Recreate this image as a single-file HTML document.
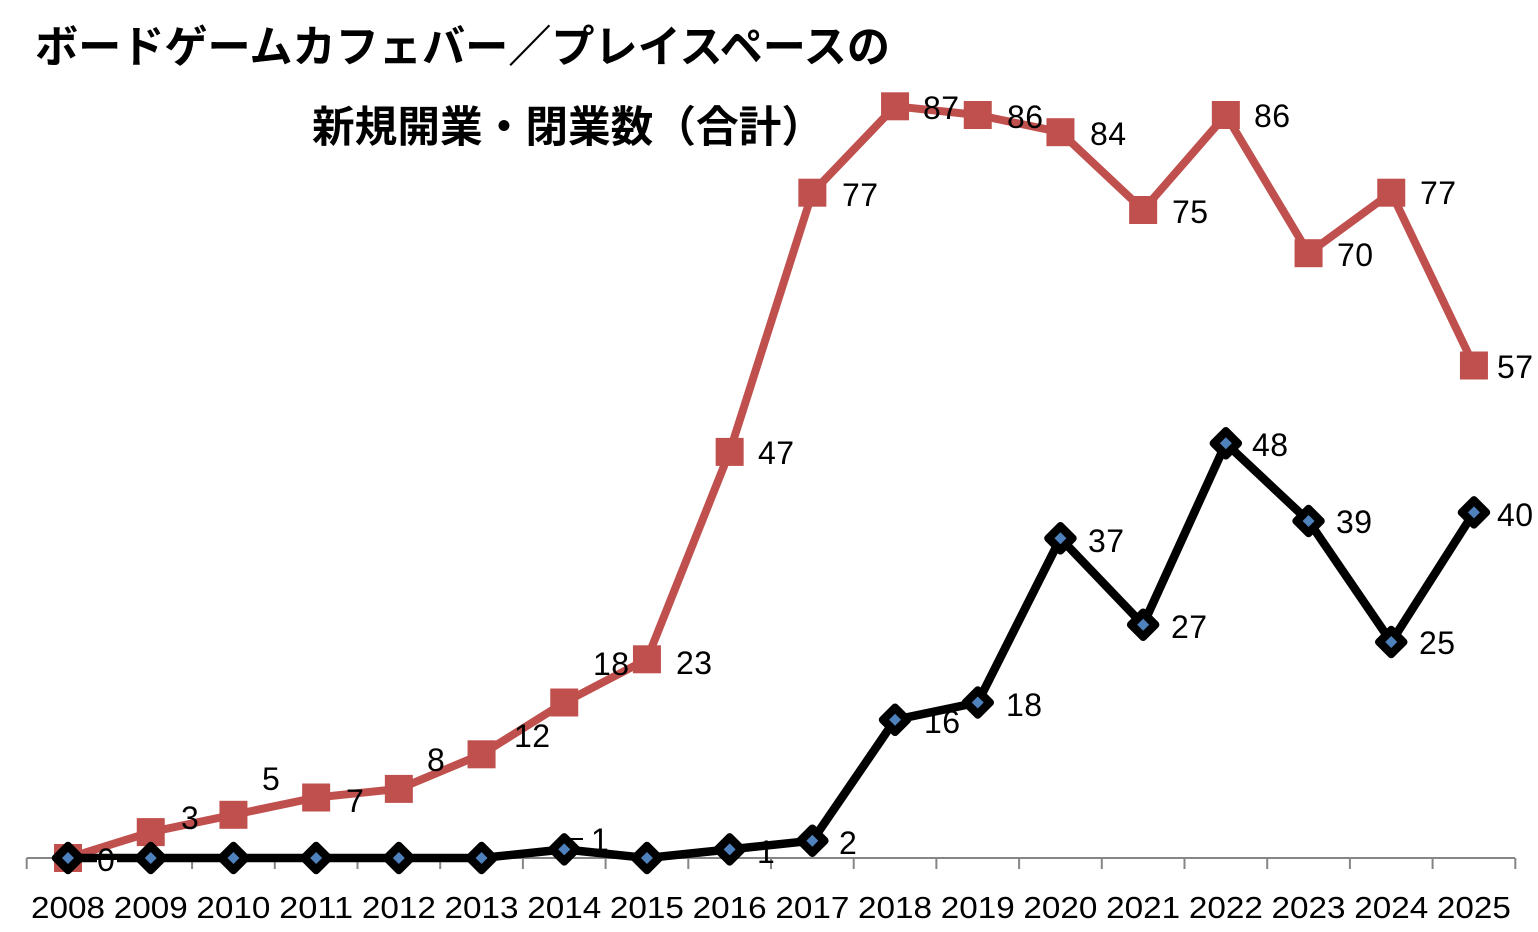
<!DOCTYPE html>
<html><head><meta charset="utf-8"><style>
html,body{margin:0;padding:0;background:#fff;}
svg{display:block;}
</style></head><body>
<svg width="1538" height="932" viewBox="0 0 1538 932" xmlns="http://www.w3.org/2000/svg">
<defs>
<rect id="sq" x="-14" y="-14" width="28" height="28" fill="#C0504D"/>
<g id="dm">
<polygon points="0,-12.5 12.5,0 0,12.5 -12.5,0" fill="#000" stroke="#000" stroke-width="7.5" stroke-linejoin="round"/>
<polygon points="0,-6 6,0 0,6 -6,0" fill="#4F81BD"/>
</g>
</defs>
<rect width="1538" height="932" fill="#fff"/>

<!-- title -->
<text x="35" y="62" font-family="Liberation Sans, Noto Sans CJK JP, sans-serif" font-weight="700" font-size="44" textLength="855" lengthAdjust="spacingAndGlyphs" fill="#000">ボードゲームカフェバー／プレイスペースの</text>
<text x="312" y="142" font-family="Liberation Sans, Noto Sans CJK JP, sans-serif" font-weight="700" font-size="43" textLength="512" lengthAdjust="spacingAndGlyphs" fill="#000">新規開業・閉業数（合計）</text>

<!-- axis -->
<g stroke="#868686" stroke-width="2">
<line x1="26.7" y1="858" x2="1515" y2="858"/>
<line x1="26.7" y1="858" x2="26.7" y2="869"/>
<line x1="109.4" y1="858" x2="109.4" y2="869"/>
<line x1="192.1" y1="858" x2="192.1" y2="869"/>
<line x1="274.8" y1="858" x2="274.8" y2="869"/>
<line x1="357.5" y1="858" x2="357.5" y2="869"/>
<line x1="440.2" y1="858" x2="440.2" y2="869"/>
<line x1="522.9" y1="858" x2="522.9" y2="869"/>
<line x1="605.6" y1="858" x2="605.6" y2="869"/>
<line x1="688.3" y1="858" x2="688.3" y2="869"/>
<line x1="771.0" y1="858" x2="771.0" y2="869"/>
<line x1="853.7" y1="858" x2="853.7" y2="869"/>
<line x1="936.4" y1="858" x2="936.4" y2="869"/>
<line x1="1019.1" y1="858" x2="1019.1" y2="869"/>
<line x1="1101.8" y1="858" x2="1101.8" y2="869"/>
<line x1="1184.5" y1="858" x2="1184.5" y2="869"/>
<line x1="1267.2" y1="858" x2="1267.2" y2="869"/>
<line x1="1349.9" y1="858" x2="1349.9" y2="869"/>
<line x1="1432.6" y1="858" x2="1432.6" y2="869"/>
<line x1="1515.3" y1="858" x2="1515.3" y2="869"/>
</g>

<!-- year labels -->
<g font-family="Liberation Sans, sans-serif" font-size="31" fill="#000" text-anchor="middle">
<text x="68" y="918" textLength="74" lengthAdjust="spacingAndGlyphs">2008</text>
<text x="150.75" y="918" textLength="74" lengthAdjust="spacingAndGlyphs">2009</text>
<text x="233.45" y="918" textLength="74" lengthAdjust="spacingAndGlyphs">2010</text>
<text x="316.15" y="918" textLength="74" lengthAdjust="spacingAndGlyphs">2011</text>
<text x="398.85" y="918" textLength="74" lengthAdjust="spacingAndGlyphs">2012</text>
<text x="481.55" y="918" textLength="74" lengthAdjust="spacingAndGlyphs">2013</text>
<text x="564.25" y="918" textLength="74" lengthAdjust="spacingAndGlyphs">2014</text>
<text x="646.95" y="918" textLength="74" lengthAdjust="spacingAndGlyphs">2015</text>
<text x="729.65" y="918" textLength="74" lengthAdjust="spacingAndGlyphs">2016</text>
<text x="812.35" y="918" textLength="74" lengthAdjust="spacingAndGlyphs">2017</text>
<text x="895.05" y="918" textLength="74" lengthAdjust="spacingAndGlyphs">2018</text>
<text x="977.75" y="918" textLength="74" lengthAdjust="spacingAndGlyphs">2019</text>
<text x="1060.45" y="918" textLength="74" lengthAdjust="spacingAndGlyphs">2020</text>
<text x="1143.15" y="918" textLength="74" lengthAdjust="spacingAndGlyphs">2021</text>
<text x="1225.85" y="918" textLength="74" lengthAdjust="spacingAndGlyphs">2022</text>
<text x="1308.55" y="918" textLength="74" lengthAdjust="spacingAndGlyphs">2023</text>
<text x="1391.25" y="918" textLength="74" lengthAdjust="spacingAndGlyphs">2024</text>
<text x="1473.95" y="918" textLength="74" lengthAdjust="spacingAndGlyphs">2025</text>
</g>

<!-- red series -->
<polyline fill="none" stroke="#C0504D" stroke-width="8" stroke-linejoin="round" stroke-linecap="round"
points="68,858 150.75,832.1 233.45,814.8 316.15,797.5 398.85,788.9 481.55,754.3 564.25,702.5 646.95,659.3 729.65,451.9 812.35,192.7 895.05,106.3 977.75,115 1060.45,132.2 1143.15,210 1225.85,115 1308.55,253.2 1391.25,192.7 1473.95,365.5"/>
<use href="#sq" x="68" y="858"/>
<use href="#sq" x="150.75" y="832.1"/>
<use href="#sq" x="233.45" y="814.8"/>
<use href="#sq" x="316.15" y="797.5"/>
<use href="#sq" x="398.85" y="788.9"/>
<use href="#sq" x="481.55" y="754.3"/>
<use href="#sq" x="564.25" y="702.5"/>
<use href="#sq" x="646.95" y="659.3"/>
<use href="#sq" x="729.65" y="451.9"/>
<use href="#sq" x="812.35" y="192.7"/>
<use href="#sq" x="895.05" y="106.3"/>
<use href="#sq" x="977.75" y="115"/>
<use href="#sq" x="1060.45" y="132.2"/>
<use href="#sq" x="1143.15" y="210"/>
<use href="#sq" x="1225.85" y="115"/>
<use href="#sq" x="1308.55" y="253.2"/>
<use href="#sq" x="1391.25" y="192.7"/>
<use href="#sq" x="1473.95" y="365.5"/>

<!-- black series -->
<polyline fill="none" stroke="#000" stroke-width="8.5" stroke-linejoin="round" stroke-linecap="round"
points="68,858 150.75,858 233.45,858 316.15,858 398.85,858 481.55,858 564.25,849.4 646.95,858 729.65,849.4 812.35,840.7 895.05,719.8 977.75,702.5 1060.45,538.3 1143.15,624.7 1225.85,443.3 1308.55,521 1391.25,642 1473.95,512.4"/>
<use href="#dm" x="68" y="858"/>
<use href="#dm" x="150.75" y="858"/>
<use href="#dm" x="233.45" y="858"/>
<use href="#dm" x="316.15" y="858"/>
<use href="#dm" x="398.85" y="858"/>
<use href="#dm" x="481.55" y="858"/>
<use href="#dm" x="564.25" y="849.4"/>
<use href="#dm" x="646.95" y="858"/>
<use href="#dm" x="729.65" y="849.4"/>
<use href="#dm" x="812.35" y="840.7"/>
<use href="#dm" x="895.05" y="719.8"/>
<use href="#dm" x="977.75" y="702.5"/>
<use href="#dm" x="1060.45" y="538.3"/>
<use href="#dm" x="1143.15" y="624.7"/>
<use href="#dm" x="1225.85" y="443.3"/>
<use href="#dm" x="1308.55" y="521"/>
<use href="#dm" x="1391.25" y="642"/>
<use href="#dm" x="1473.95" y="512.4"/>

<!-- data labels -->
<rect x="97" y="860" width="20" height="12" fill="#fff"/>
<line x1="568" y1="839" x2="583" y2="839" stroke="#000" stroke-width="2"/>
<g font-family="Liberation Sans, sans-serif" font-size="32" fill="#000" letter-spacing="0.5">
<text x="97" y="871">0</text>
<text x="181" y="829">3</text>
<text x="262" y="790">5</text>
<text x="346" y="812">7</text>
<text x="427" y="771">8</text>
<text x="514" y="747">12</text>
<text x="593" y="675">18</text>
<text x="676" y="674">23</text>
<text x="758" y="464">47</text>
<text x="842" y="206">77</text>
<text x="923" y="119">87</text>
<text x="1007" y="128">86</text>
<text x="1090" y="145">84</text>
<text x="1172" y="223">75</text>
<text x="1254" y="127">86</text>
<text x="1337" y="266">70</text>
<text x="1420" y="204">77</text>
<text x="1497" y="378">57</text>

<text x="591" y="851">1</text>
<text x="757" y="863">1</text>
<text x="839" y="854">2</text>
<text x="924" y="733">16</text>
<text x="1006" y="716">18</text>
<text x="1088" y="552">37</text>
<text x="1171" y="638">27</text>
<text x="1252" y="456">48</text>
<text x="1336" y="533">39</text>
<text x="1419" y="654">25</text>
<text x="1497" y="526">40</text>
</g>
</svg>
</body></html>
